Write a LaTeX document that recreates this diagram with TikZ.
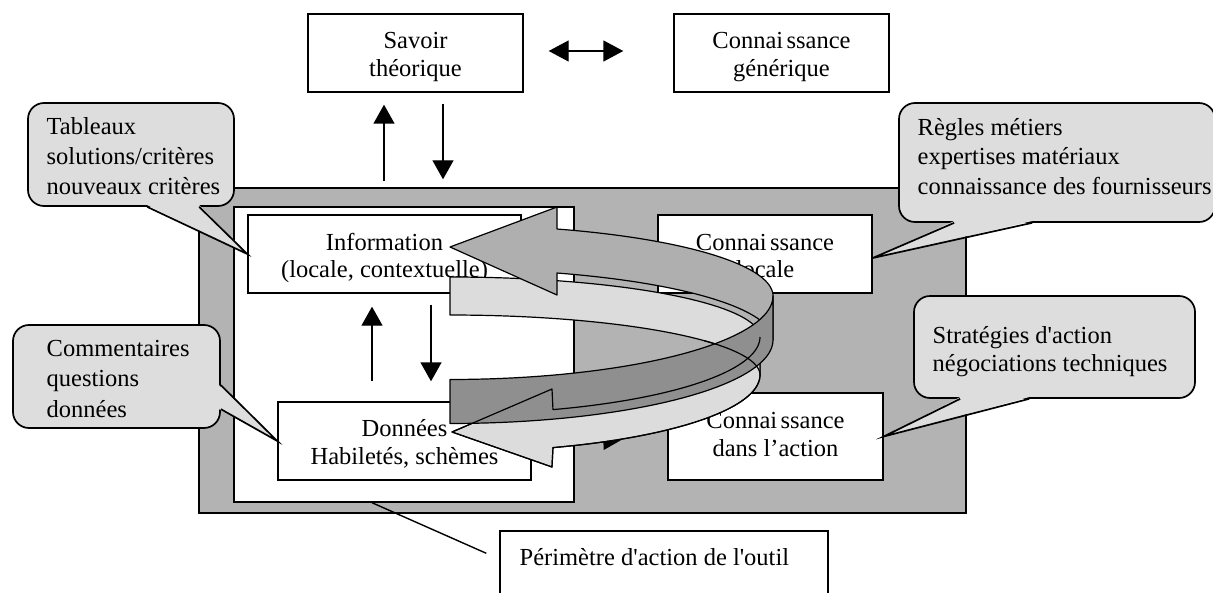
\documentclass[tikz,border=0pt]{standalone}
\usepackage{fontspec}
\setmainfont{Liberation Serif}[Ligatures=TeXOff]
\usetikzlibrary{arrows.meta,calc}
\definecolor{rectgray}{HTML}{B3B3B3}
\definecolor{callgray}{HTML}{DDDDDD}
\definecolor{ribmed}{HTML}{AFAFAF}
\definecolor{ribdark}{HTML}{8F8F8F}
\definecolor{riblight}{HTML}{DCDCDC}
\newcommand{\ctext}[2]{{\fontsize{12.25}{#1}\selectfont\begin{tabular}[t]{@{}c@{}}#2\end{tabular}}}
\newcommand{\ltext}[2]{{\fontsize{12.25}{#1}\selectfont\begin{tabular}[t]{@{}l@{}}#2\end{tabular}}}
\newcommand{\cgap}{\hspace{0.14em}}
\begin{document}
\begin{tikzpicture}[x=0.5pt,y=-0.5pt,line width=0.7pt,
  box/.style={draw,fill=white,inner sep=0pt},
  txt/.style={inner sep=0pt,anchor=base},
  txtl/.style={inner sep=0pt,anchor=base west},
  callbox/.style={draw,fill=callgray,rounded corners=8pt,inner sep=0pt,line width=0.85pt},
  wedge/.style={line width=0.85pt,line join=miter},
  blk/.style={-{Triangle[width=10.5pt,length=9.5pt]}},
  rib/.style={draw=black,line width=0.6pt,line join=round}]
\useasboundingbox (0,0) rectangle (1213,593);

% frames
\node[draw,fill=rectgray,minimum width=383.5pt,minimum height=162.5pt,inner sep=0pt] (outer) at (582.5,350.5) {};
\node[box,minimum width=170pt,minimum height=147.5pt] (inner) at (404,354.5) {};

% boxes inside
\node[box,minimum width=136.5pt,minimum height=39pt] (info) at (384.5,254) {};
\node[txt] (infot) at (384.5,250) {\ctext{13.5}{Information\\(locale, contextuelle)}};
\node[box,minimum width=126.5pt,minimum height=39pt] (donnees) at (404.5,441) {};
\node[txt] (donneest) at (404.5,436) {\ctext{14}{Données\\Habiletés, schèmes}};
\node[box,minimum width=107pt,minimum height=39pt] (locale) at (765,254) {};
\node[txt] (localet) at (765,250) {\ctext{13.5}{Connai\cgap ssance\\locale}};
\node[box,minimum width=107.5pt,minimum height=43.5pt] (action) at (775.5,436.5) {};
\node[txt] (actiont) at (775.5,428) {\ctext{14}{Connai\cgap ssance\\dans l’action}};

% inner arrows
\draw[blk] ($(donnees.north -| info.south)+(-12.5,-20)$) -- ($(info.south)+(-12.5,13)$);
\draw[blk] ($(info.south)+(46.5,11)$) -- ($(donnees.north -| info.south)+(46.5,-20)$);
\draw[-{Triangle[width=9pt,length=9pt]}] ($(donnees.east)+(0,3)$) -- ($(action.west)+(-46,3.5)$);

% ribbons (3D circular arrows)
\filldraw[rib,fill=riblight] plot[domain=90:0,samples=40] ({450+310*cos(\x)},{356-60*sin(\x)-19})
  -- plot[domain=0:90,samples=40] ({450+310*cos(\x)},{356-60*sin(\x)+19}) -- cycle;
\filldraw[rib,fill=riblight] plot[domain=0:-70.6,samples=40] ({450+310*cos(\x)},{356-77*sin(\x)-19})
  -- (552,389) -- (452,432) -- (552,467)
  -- plot[domain=-70.6:0,samples=40] ({450+310*cos(\x)},{356-77*sin(\x)+19}) -- cycle;
\filldraw[rib,fill=ribmed] (557,229) -- (557,207) -- (450,247) -- (557,295) -- (557,273)
  -- plot[domain=70.66:0,samples=40] ({450+323*cos(\x)},{318-71*sin(\x)+22})
  -- plot[domain=0:70.66,samples=40] ({450+323*cos(\x)},{318-71*sin(\x)-22}) -- cycle;
\filldraw[rib,fill=ribdark] plot[domain=0:-90,samples=40] ({450+323*cos(\x)},{318-83.5*sin(\x)-22})
  -- plot[domain=-90:0,samples=40] ({450+323*cos(\x)},{318-83.5*sin(\x)+22}) -- cycle;
\draw[rib] plot[domain=0:-70.6,samples=40] ({450+310*cos(\x)},{356-77*sin(\x)-19})
  -- (552,389) -- (452,432) -- (552,467)
  -- plot[domain=-70.6:0,samples=40] ({450+310*cos(\x)},{356-77*sin(\x)+19});
\draw[rib] plot[domain=0:35,samples=20] ({450+310*cos(\x)},{356-60*sin(\x)+19});

% top boxes
\node[box,minimum width=107.5pt,minimum height=39pt] (savoir) at (415.5,53) {};
\node[txt] (savoirt) at (415.5,49) {\ctext{14}{Savoir\\théorique}};
\node[box,minimum width=107.5pt,minimum height=39pt] (generic) at (781.5,53) {};
\node[txt] (generict) at (781.5,49) {\ctext{14}{Connai\cgap ssance\\générique}};
\draw[{Triangle[width=10.5pt,length=10pt]}-{Triangle[width=10.5pt,length=10pt]},shorten <=12.5pt,shorten >=25pt] ($(savoir.east)+(0,-2)$) -- ($(generic.west)+(0,-2)$);
\draw[blk] ($(savoir.south |- outer.north)+(-31.5,-6)$) -- ($(savoir.south)+(-31.5,12)$);
\draw[blk] ($(savoir.south)+(27.5,11)$) -- ($(savoir.south |- outer.north)+(27.5,-8)$);

% perimeter
\node[draw,fill=white,minimum width=164pt,minimum height=35pt,inner sep=0pt] (perim) at (664,566) {};
\node[txtl] (perimt) at (519,565) {\ltext{14}{Périmètre d'action de l'outil}};
\draw ($(inner.south)+(-32,0)$) -- ($(perim.north west)+(-13,23)$);

% callouts
\node[callbox,minimum width=103pt,minimum height=51.5pt] (tab) at (131,154.5) {};
\fill[callgray] ($(tab.south west)+(120,-1.8)$) -- (info.west) -- ($(tab.south west)+(172,-1.8)$) -- cycle;
\draw[wedge] ($(tab.south west)+(120,0)$) -- (info.west) -- ($(tab.south west)+(172,0)$);
\node[txtl] (tabt) at (46,135) {\ltext{14.75}{Tableaux\\solutions/critères\\nouveaux critères}};

\node[callbox,minimum width=103.5pt,minimum height=51.5pt] (com) at (116.5,376.5) {};
\fill[callgray] ($(com.north east)+(-1.8,61)$) -- (donnees.west) -- ($(com.north east)+(-1.8,85)$) -- cycle;
\draw[wedge] ($(com.north east)+(0,61)$) -- (donnees.west) -- ($(com.north east)+(0,85)$);
\node[txtl] (comt) at (46,356) {\ltext{15.25}{Commentaires\\questions\\données}};

\node[callbox,minimum width=158pt,minimum height=59.5pt] (regles) at (1057,162.5) {};
\fill[callgray] ($(regles.south west)+(56,-1.8)$) -- ($(locale.east)+(0,4)$) -- ($(regles.south west)+(134,-1.8)$) -- cycle;
\draw[wedge] ($(regles.south west)+(56,0)$) -- ($(locale.east)+(0,4)$) -- ($(regles.south west)+(134,0)$);
\node[txtl] (reglest) at (917,136) {\ltext{14.5}{Règles métiers\\expertises matériaux\\connaissance des fournisseurs}};

\node[callbox,minimum width=140.5pt,minimum height=51pt] (strat) at (1054.5,347) {};
\fill[callgray] ($(strat.south west)+(47,-1.8)$) -- (action.east) -- ($(strat.south west)+(116,-1.8)$) -- cycle;
\draw[wedge] ($(strat.south west)+(47,0)$) -- (action.east) -- ($(strat.south west)+(116,0)$);
\node[txtl] (stratt) at (932,343) {\ltext{14}{Stratégies d'action\\négociations techniques}};
\end{tikzpicture}
\end{document}
